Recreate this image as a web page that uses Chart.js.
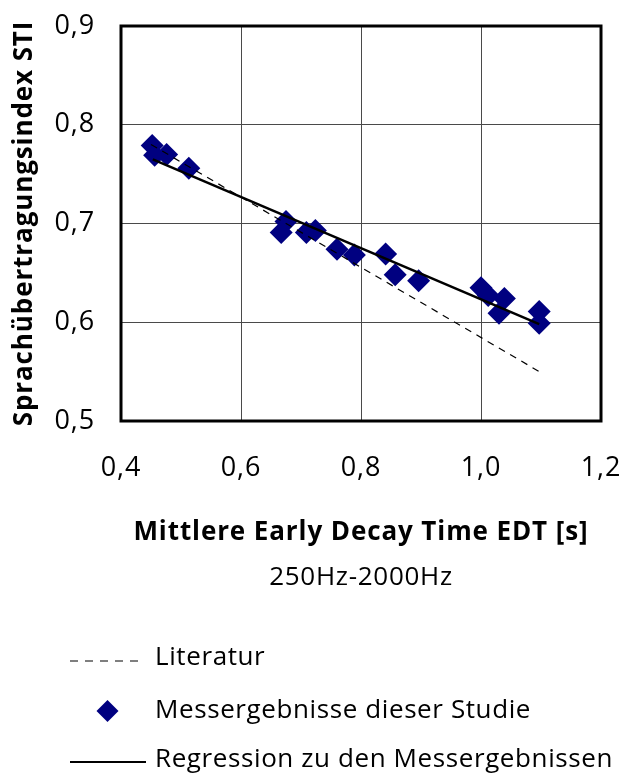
<!DOCTYPE html>
<html>
<head>
<meta charset="utf-8">
<script src="https://cdn.jsdelivr.net/npm/chart.js@4.4.1/dist/chart.umd.min.js"></script>
<style>
  html, body { margin: 0; padding: 0; background: #fff; }
  #wrap { width: 623px; height: 776px; }
</style>
</head>
<body>
<div id="wrap"><canvas id="myChart" width="623" height="776"></canvas></div>
<script>
// Messwerte: mittlere EDT (250Hz-2000Hz) und STI
const edtWerte = [0.452, 0.456, 0.476, 0.513, 0.667, 0.675, 0.709, 0.724, 0.760, 0.789,
                  0.841, 0.857, 0.896, 1.000, 1.012, 1.039, 1.030, 1.097, 1.097];
const stiWerte = [0.779, 0.769, 0.770, 0.756, 0.691, 0.702, 0.691, 0.693, 0.674, 0.668,
                  0.669, 0.648, 0.642, 0.635, 0.627, 0.624, 0.609, 0.611, 0.599];

// Literaturgerade (Anfang / Ende)
const literaturX = [0.45, 1.10];
const literaturY = [0.780, 0.549];

// Regressionsgerade zu den Messergebnissen
const regressionX = [0.453, 1.097];
const regressionY = [0.765, 0.598];

const xTicks = [0.4, 0.6, 0.8, 1.0, 1.2];
const yTicks = [0.5, 0.6, 0.7, 0.8, 0.9];

const legendenTexte = ['Literatur', 'Messergebnisse dieser Studie', 'Regression zu den Messergebnissen'];

const FONT = "'Open Sans', 'DejaVu Sans', sans-serif";
const komma = v => v.toFixed(1).replace('.', ',');
const toPoints = (xs, ys) => xs.map((x, i) => ({ x: x, y: ys[i] }));

// etwas weitere Laufweite für alle Texte
const laufweitePlugin = {
    id: 'laufweite',
    beforeDraw(chart) {
        chart.ctx.letterSpacing = '0.9px';
    }
};

// Legende und Untertitel unterhalb der Achse zeichnen
const legendePlugin = {
    id: 'legende',
    afterDraw(chart) {
        const ctx = chart.ctx;
        const area = chart.chartArea;
        ctx.save();
        ctx.fillStyle = '#000';
        ctx.textBaseline = 'middle';

        ctx.font = '26px ' + FONT;
        ctx.letterSpacing = '0.7px';
        ctx.textAlign = 'center';
        ctx.fillText('250Hz-2000Hz', (area.left + area.right) / 2, 578);

        ctx.textAlign = 'left';
        const zeilen = [658, 711, 760];
        const textX = 155;

        // gestrichelte Linie
        ctx.strokeStyle = '#000';
        ctx.lineWidth = 1.2;
        ctx.setLineDash([8, 7]);
        ctx.beginPath();
        ctx.moveTo(70, zeilen[0] + 3);
        ctx.lineTo(142, zeilen[0] + 3);
        ctx.stroke();
        ctx.setLineDash([]);

        // Raute
        const r = 11;
        const mx = 107.5;
        ctx.fillStyle = '#000080';
        ctx.beginPath();
        ctx.moveTo(mx, zeilen[1] - r);
        ctx.lineTo(mx + r, zeilen[1]);
        ctx.lineTo(mx, zeilen[1] + r);
        ctx.lineTo(mx - r, zeilen[1]);
        ctx.closePath();
        ctx.fill();

        // durchgezogene Linie
        ctx.lineWidth = 2;
        ctx.beginPath();
        ctx.moveTo(70, zeilen[2] + 2);
        ctx.lineTo(146, zeilen[2] + 2);
        ctx.stroke();

        ctx.fillStyle = '#000';
        ctx.letterSpacing = '0.6px';
        legendenTexte.forEach((t, i) => ctx.fillText(t, textX, zeilen[i]));
        ctx.restore();
    }
};

// dicker Rahmen um die Zeichenfläche
const rahmenPlugin = {
    id: 'rahmen',
    beforeDatasetsDraw(chart) {
        const { ctx, chartArea: a } = chart;
        ctx.save();
        ctx.strokeStyle = '#000';
        ctx.lineWidth = 3;
        ctx.strokeRect(a.left, a.top, a.right - a.left, a.bottom - a.top);
        ctx.restore();
    }
};

const ctx = document.getElementById('myChart').getContext('2d');
new Chart(ctx, {
    type: 'scatter',
    data: {
        datasets: [
            {
                label: legendenTexte[1],
                data: toPoints(edtWerte, stiWerte),
                pointStyle: 'rectRot',
                pointRadius: 11.5,
                backgroundColor: '#000080',
                borderColor: '#000080',
                borderWidth: 0,
                order: 3
            },
            {
                label: legendenTexte[0],
                type: 'line',
                data: toPoints(literaturX, literaturY),
                borderColor: '#000',
                borderWidth: 1.2,
                borderDash: [7, 6],
                pointRadius: 0,
                fill: false,
                order: 2
            },
            {
                label: legendenTexte[2],
                type: 'line',
                data: toPoints(regressionX, regressionY),
                borderColor: '#000',
                borderWidth: 2.5,
                pointRadius: 0,
                fill: false,
                order: 1
            }
        ]
    },
    options: {
        responsive: false,
        animation: false,
        layout: { padding: { left: 0, top: 26, right: 22, bottom: 228 } },
        plugins: {
            legend: { display: false },
            tooltip: { enabled: false }
        },
        scales: {
            x: {
                type: 'linear',
                min: 0.4,
                max: 1.2,
                afterBuildTicks: s => { s.ticks = xTicks.map(v => ({ value: v })); },
                afterFit: s => {
                    s.height = 127;
                    s.paddingLeft = 0;
                    s.paddingRight = 0;
                },
                grid: { color: '#4a4a4a', lineWidth: 1, drawTicks: false },
                border: { display: false },
                ticks: {
                    padding: 31,
                    color: '#000',
                    font: { family: FONT, size: 27 },
                    callback: v => komma(v)
                },
                title: {
                    display: true,
                    text: 'Mittlere Early Decay Time EDT [s]',
                    color: '#000',
                    font: { family: FONT, size: 26, weight: 'bold' },
                    padding: { top: 0, bottom: 0 }
                }
            },
            y: {
                type: 'linear',
                min: 0.5,
                max: 0.9,
                afterBuildTicks: s => { s.ticks = yTicks.map(v => ({ value: v })); },
                afterFit: s => {
                    s.width = 121;
                    s.paddingTop = 0;
                    s.paddingBottom = 0;
                },
                grid: { color: '#4a4a4a', lineWidth: 1, drawTicks: false },
                border: { display: false },
                ticks: {
                    padding: 26,
                    color: '#000',
                    font: { family: FONT, size: 27 },
                    callback: v => komma(v)
                },
                title: {
                    display: true,
                    text: 'Sprachübertragungsindex STI',
                    color: '#000',
                    font: { family: FONT, size: 26, weight: 'bold' },
                    padding: { top: 9, bottom: 0 }
                }
            }
        }
    },
    plugins: [laufweitePlugin, rahmenPlugin, legendePlugin]
});
</script>
</body>
</html>
